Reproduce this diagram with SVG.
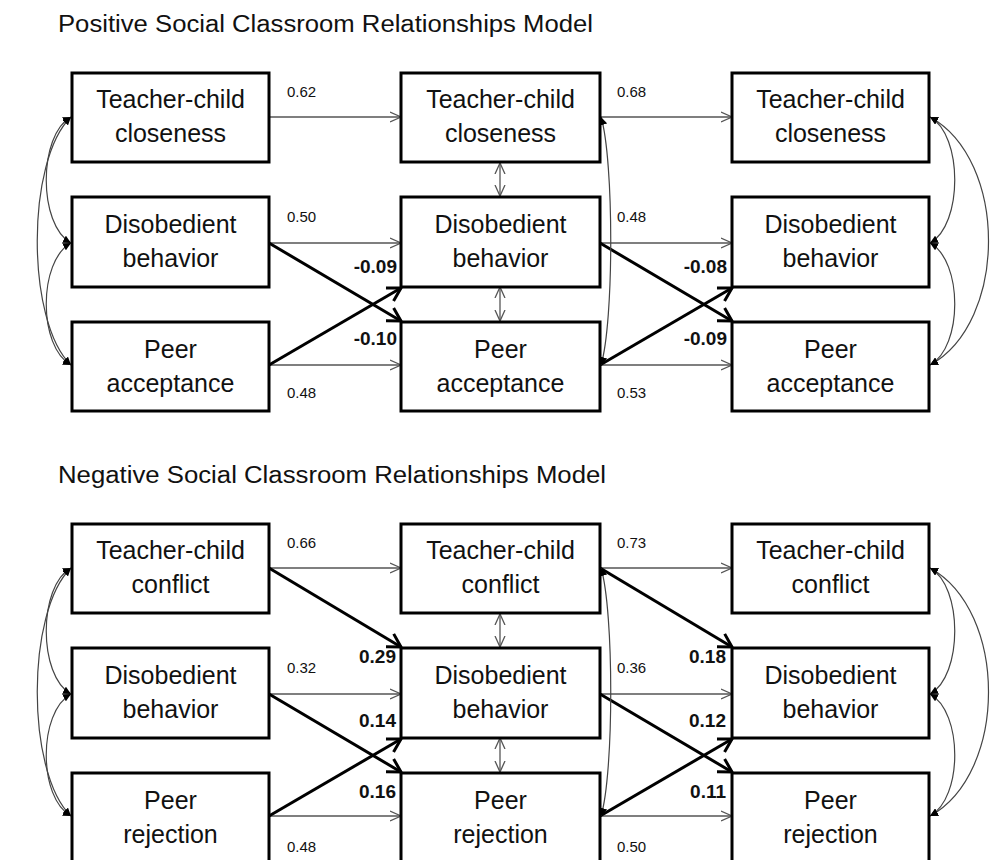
<svg xmlns="http://www.w3.org/2000/svg" width="990" height="860" viewBox="0 0 990 860">
<defs>
<style>
.title{font-family:"Liberation Sans",Arial,sans-serif;font-size:23px;fill:#111}
.box rect{fill:#fff;stroke:#000;stroke-width:3}
.box text{font-family:"Liberation Sans",Arial,sans-serif;font-size:25px;fill:#111;text-anchor:middle}
.num{font-family:"Liberation Sans",Arial,sans-serif;font-size:15px;fill:#111}
.bnum{font-family:"Liberation Sans",Arial,sans-serif;font-size:19px;font-weight:bold;fill:#111;text-anchor:end}
.thin{stroke:#555;stroke-width:1.3;fill:none;marker-end:url(#aThin)}
.dbl{stroke:#555;stroke-width:1.3;fill:none;marker-start:url(#aThin);marker-end:url(#aThin)}
.thick{stroke:#000;stroke-width:3;fill:none;marker-end:url(#aThick)}
.curve{stroke:#444;stroke-width:1.2;fill:none;marker-start:url(#aFill);marker-end:url(#aFill)}
</style>
<marker id="aThin" viewBox="0 0 12 12" refX="11" refY="6" markerWidth="12" markerHeight="12" markerUnits="userSpaceOnUse" orient="auto-start-reverse"><path d="M0,1 L11,6 L0,11" fill="none" stroke="#555" stroke-width="1.3"/></marker>
<marker id="aThick" viewBox="0 0 16 18" refX="13" refY="9" markerWidth="16" markerHeight="18" markerUnits="userSpaceOnUse" orient="auto" overflow="visible"><path d="M0,1.5 L13,9 L0,16.5" fill="none" stroke="#000" stroke-width="3"/></marker>
<marker id="aFill" viewBox="0 0 8 8" refX="8" refY="4" markerWidth="8" markerHeight="8" markerUnits="userSpaceOnUse" orient="auto-start-reverse"><path d="M0,0 L8,4 L0,8 Z" fill="#000"/></marker>
</defs>
<rect width="990" height="860" fill="#fff"/>

<text class="title" x="58" y="32" textLength="535" lengthAdjust="spacingAndGlyphs">Positive Social Classroom Relationships Model</text>
<text class="title" x="58" y="483" textLength="548" lengthAdjust="spacingAndGlyphs">Negative Social Classroom Relationships Model</text>

<g id="connectors">
  <!-- top model -->
  <line class="thin" x1="269" y1="117" x2="401" y2="117"/>
  <line class="thin" x1="269" y1="243" x2="401" y2="243"/>
  <line class="thin" x1="269" y1="365" x2="401" y2="365"/>
  <line class="thin" x1="600" y1="117" x2="732" y2="117"/>
  <line class="thin" x1="600" y1="243" x2="732" y2="243"/>
  <line class="thin" x1="600" y1="365" x2="732" y2="365"/>
  <line class="thick" x1="269" y1="243" x2="401" y2="321"/>
  <line class="thick" x1="269" y1="365" x2="401" y2="288"/>
  <line class="thick" x1="600" y1="243" x2="732" y2="321"/>
  <line class="thick" x1="600" y1="365" x2="732" y2="288"/>
  <line class="dbl" x1="500" y1="163" x2="500" y2="196"/>
  <line class="dbl" x1="500" y1="287" x2="500" y2="321"/>
  <path class="curve" d="M601,117 C614,160 614,322 601,365"/>
  <path class="curve" d="M71,117 C38,135 38,225 71,243"/>
  <path class="curve" d="M71,243 C38,261 38,347 71,365"/>
  <path class="curve" d="M71,117 C26,160 26,322 71,365"/>
  <path class="curve" d="M930,117 C963,135 963,225 930,243"/>
  <path class="curve" d="M930,243 C963,261 963,347 930,365"/>
  <path class="curve" d="M930,117 C1008,160 1008,322 930,365"/>
  <!-- bottom model -->
  <line class="thin" x1="269" y1="568" x2="401" y2="568"/>
  <line class="thin" x1="269" y1="694" x2="401" y2="694"/>
  <line class="thin" x1="269" y1="816" x2="401" y2="816"/>
  <line class="thin" x1="600" y1="568" x2="732" y2="568"/>
  <line class="thin" x1="600" y1="694" x2="732" y2="694"/>
  <line class="thin" x1="600" y1="816" x2="732" y2="816"/>
  <line class="thick" x1="269" y1="568" x2="401" y2="647"/>
  <line class="thick" x1="269" y1="694" x2="401" y2="772"/>
  <line class="thick" x1="269" y1="816" x2="401" y2="739"/>
  <line class="thick" x1="600" y1="568" x2="732" y2="647"/>
  <line class="thick" x1="600" y1="694" x2="732" y2="772"/>
  <line class="thick" x1="600" y1="816" x2="732" y2="739"/>
  <line class="dbl" x1="500" y1="614" x2="500" y2="647"/>
  <line class="dbl" x1="500" y1="738" x2="500" y2="772"/>
  <path class="curve" d="M601,568 C614,611 614,773 601,816"/>
  <path class="curve" d="M71,568 C38,586 38,676 71,694"/>
  <path class="curve" d="M71,694 C38,712 38,798 71,816"/>
  <path class="curve" d="M71,568 C26,611 26,773 71,816"/>
  <path class="curve" d="M930,568 C963,586 963,676 930,694"/>
  <path class="curve" d="M930,694 C963,712 963,798 930,816"/>
  <path class="curve" d="M930,568 C1008,611 1008,773 930,816"/>
</g>

<g id="labels">
  <text class="num" x="287" y="97">0.62</text>
  <text class="num" x="617" y="97">0.68</text>
  <text class="num" x="287" y="222">0.50</text>
  <text class="num" x="617" y="222">0.48</text>
  <text class="num" x="287" y="398">0.48</text>
  <text class="num" x="617" y="398">0.53</text>
  <text class="bnum" x="397" y="273">-0.09</text>
  <text class="bnum" x="397" y="345">-0.10</text>
  <text class="bnum" x="727" y="273">-0.08</text>
  <text class="bnum" x="727" y="345">-0.09</text>
  <text class="num" x="287" y="548">0.66</text>
  <text class="num" x="617" y="548">0.73</text>
  <text class="num" x="287" y="673">0.32</text>
  <text class="num" x="617" y="673">0.36</text>
  <text class="num" x="287" y="852">0.48</text>
  <text class="num" x="617" y="852">0.50</text>
  <text class="bnum" x="396" y="663">0.29</text>
  <text class="bnum" x="396" y="727">0.14</text>
  <text class="bnum" x="396" y="798">0.16</text>
  <text class="bnum" x="726" y="663">0.18</text>
  <text class="bnum" x="726" y="727">0.12</text>
  <text class="bnum" x="726" y="798">0.11</text>
</g>

<g id="p-t1" class="box"><rect x="72" y="73" width="197" height="89"/><text x="170.5" y="108">Teacher-child</text><text x="170.5" y="142">closeness</text></g>
<g id="p-d1" class="box"><rect x="72" y="197" width="197" height="90"/><text x="170.5" y="233">Disobedient</text><text x="170.5" y="267">behavior</text></g>
<g id="p-p1" class="box"><rect x="72" y="322" width="197" height="89"/><text x="170.5" y="358">Peer</text><text x="170.5" y="392">acceptance</text></g>
<g id="p-t2" class="box"><rect x="401" y="73" width="199" height="89"/><text x="500.5" y="108">Teacher-child</text><text x="500.5" y="142">closeness</text></g>
<g id="p-d2" class="box"><rect x="401" y="197" width="199" height="90"/><text x="500.5" y="233">Disobedient</text><text x="500.5" y="267">behavior</text></g>
<g id="p-p2" class="box"><rect x="401" y="322" width="199" height="89"/><text x="500.5" y="358">Peer</text><text x="500.5" y="392">acceptance</text></g>
<g id="p-t3" class="box"><rect x="732" y="73" width="197" height="89"/><text x="830.5" y="108">Teacher-child</text><text x="830.5" y="142">closeness</text></g>
<g id="p-d3" class="box"><rect x="732" y="197" width="197" height="90"/><text x="830.5" y="233">Disobedient</text><text x="830.5" y="267">behavior</text></g>
<g id="p-p3" class="box"><rect x="732" y="322" width="197" height="89"/><text x="830.5" y="358">Peer</text><text x="830.5" y="392">acceptance</text></g>

<g id="n-t1" class="box"><rect x="72" y="524" width="197" height="89"/><text x="170.5" y="559">Teacher-child</text><text x="170.5" y="593">conflict</text></g>
<g id="n-d1" class="box"><rect x="72" y="648" width="197" height="90"/><text x="170.5" y="684">Disobedient</text><text x="170.5" y="718">behavior</text></g>
<g id="n-p1" class="box"><rect x="72" y="773" width="197" height="90"/><text x="170.5" y="809">Peer</text><text x="170.5" y="843">rejection</text></g>
<g id="n-t2" class="box"><rect x="401" y="524" width="199" height="89"/><text x="500.5" y="559">Teacher-child</text><text x="500.5" y="593">conflict</text></g>
<g id="n-d2" class="box"><rect x="401" y="648" width="199" height="90"/><text x="500.5" y="684">Disobedient</text><text x="500.5" y="718">behavior</text></g>
<g id="n-p2" class="box"><rect x="401" y="773" width="199" height="90"/><text x="500.5" y="809">Peer</text><text x="500.5" y="843">rejection</text></g>
<g id="n-t3" class="box"><rect x="732" y="524" width="197" height="89"/><text x="830.5" y="559">Teacher-child</text><text x="830.5" y="593">conflict</text></g>
<g id="n-d3" class="box"><rect x="732" y="648" width="197" height="90"/><text x="830.5" y="684">Disobedient</text><text x="830.5" y="718">behavior</text></g>
<g id="n-p3" class="box"><rect x="732" y="773" width="197" height="90"/><text x="830.5" y="809">Peer</text><text x="830.5" y="843">rejection</text></g>
</svg>
